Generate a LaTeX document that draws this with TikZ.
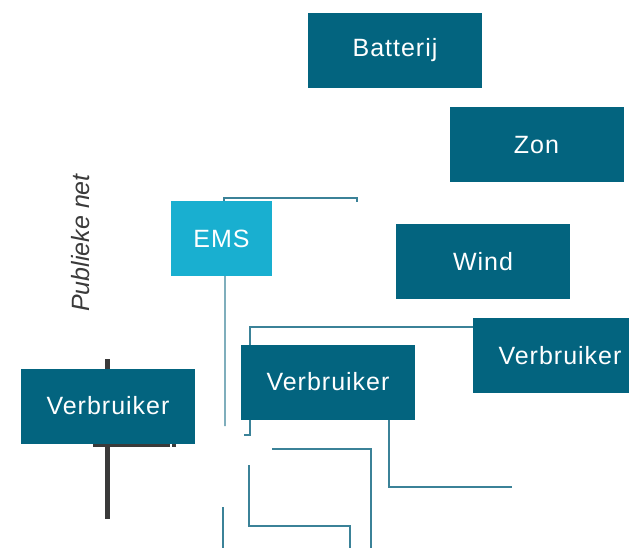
\documentclass[tikz,border=0pt]{standalone}
\usepackage{fontspec}
\usepackage{xcolor}
\usetikzlibrary{positioning,backgrounds}
\newfontfamily\boxfont[LetterSpace=4]{Liberation Sans}
\newfontfamily\labelfont{Liberation Sans}
\definecolor{boxteal}{HTML}{03647F}
\definecolor{emscyan}{HTML}{19AFD0}
\definecolor{linkteal}{HTML}{3B8298}
\definecolor{netgrey}{HTML}{3A3A3A}

\begin{document}
\begin{tikzpicture}[
  x=1bp, y=-1bp,
  unitbox/.style={
    rectangle, fill=boxteal, text=white, inner sep=0pt,
    minimum width=174bp, minimum height=75bp,
    font=\boxfont\fontsize{25bp}{30bp}\selectfont,
  },
  link/.style={draw=linkteal, line width=1.3bp},
  netline/.style={draw=netgrey, line width=5bp},
]
\useasboundingbox (0,0) rectangle (629,548);

% Sources
\node[unitbox] (bat) at (395,50.5) {Batterij};
\node[unitbox] (zon) at (536.5,145) {Zon};
\node[unitbox] (wind) at (483,261.5) {Wind};

% EMS
\node[unitbox, fill=emscyan, minimum width=101bp] (ems) at (221.5,238.5) {EMS};

% Consumers
\node[unitbox] (v1) at (560,355.5) {Verbruiker};
\node[unitbox] (v2) at (328,382) {Verbruiker};
\node[unitbox] (v3) at (108,406) {Verbruiker};

% Publieke net label
\node[rotate=90, font=\labelfont\itshape\fontsize{25bp}{30bp}\selectfont, text=netgrey] (net) at (81,243) {Publieke net};

\begin{scope}[on background layer]
  % free line ends
  \coordinate (emsend) at (357,202);
  \coordinate (busend) at (244,435);
  \coordinate (v2end) at (512,487);

  \draw[link] ([xshift=2.5bp]ems.north) |- (357,198) -- (emsend);
  \draw[link] ([xshift=3.5bp]ems.south) -- (225,426);
  \draw[link] ([yshift=28.5bp]v1.west) -| (250,435) -- (busend);
  \draw[link] (272,449) -| (371,548);
  \draw[link] (249,465) |- (350,526) -- (350,548);
  \draw[link] (223,507) -- (223,548);
  \draw[link] ([xshift=61bp]v2.south) |- (v2end);

  % grid connection
  \draw[netline] (107,359) -- (107,519);
  \draw[netline, line width=3bp] (93,445) -- (170,445);
  \draw[netline, line width=3bp] (172,445) -- (176,445);
\end{scope}
\end{tikzpicture}
\end{document}
